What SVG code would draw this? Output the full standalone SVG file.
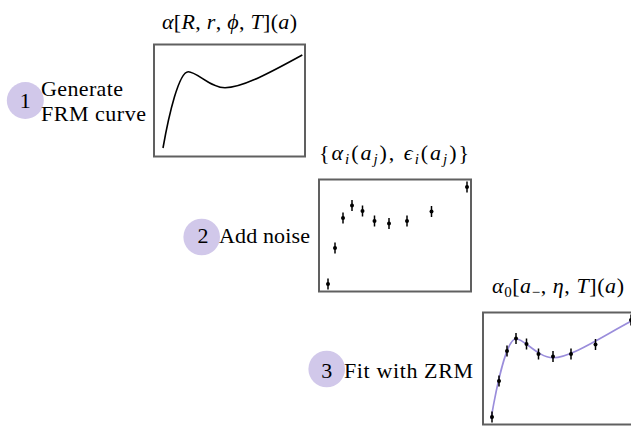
<svg xmlns="http://www.w3.org/2000/svg" xmlns:xlink="http://www.w3.org/1999/xlink" width="631" height="427" viewBox="0 0 631 427">
  <style>
    text { font-family: "Liberation Serif", "Times New Roman", "DejaVu Serif", serif; font-size: 22px; fill: #000; }
    .it { font-style: italic; }
    .sub { font-size: 15px; }
    .step { fill: #d1c8ea; }
    .box { fill: #fff; stroke: #606060; stroke-width: 2; }
    .frm { fill: none; stroke: #000; stroke-width: 1.6; }
    .zrm { fill: none; stroke: #9a8ddb; stroke-width: 1.6; }
    .bar { stroke: #000; stroke-width: 1.5; }
  </style>
  <defs>
    <g id="pt">
      <line class="bar" x1="0" y1="-5.5" x2="0" y2="5.5"/>
      <circle cx="0" cy="0" r="2" fill="#000"/>
    </g>
    <g id="data">
      <use xlink:href="#pt" href="#pt" x="9" y="105"/>
      <use xlink:href="#pt" href="#pt" x="16" y="69"/>
      <use xlink:href="#pt" href="#pt" x="24" y="39"/>
      <use xlink:href="#pt" href="#pt" x="33" y="26.5"/>
      <use xlink:href="#pt" href="#pt" x="43.5" y="32"/>
      <use xlink:href="#pt" href="#pt" x="55.5" y="42"/>
      <use xlink:href="#pt" href="#pt" x="70" y="44.5"/>
      <use xlink:href="#pt" href="#pt" x="88" y="42"/>
      <use xlink:href="#pt" href="#pt" x="112.5" y="32.5"/>
      <use xlink:href="#pt" href="#pt" x="148" y="8"/>
    </g>
  </defs>

  <!-- Step 1 -->
  <g id="step1">
    <circle class="step" cx="25.3" cy="100.5" r="18.5"/>
    <text x="25.3" y="108" text-anchor="middle">1</text>
    <text x="41" y="95.5" textLength="82">Generate</text>
    <text x="41" y="120.5" textLength="105">FRM curve</text>
  </g>
  <g id="panel1">
    <text x="162" y="29" textLength="135"><tspan class="it">α</tspan>[<tspan class="it">R</tspan>, <tspan class="it">r</tspan>, <tspan class="it">ϕ</tspan>, <tspan class="it">T</tspan>](<tspan class="it">a</tspan>)</text>
    <rect class="box" x="154" y="44.5" width="151" height="112"/>
    <path class="frm" transform="translate(154,44)" d="M9,104 C15,70 25,27.7 34.3,27.7 C43,27.7 56,43.7 71,43.7 C89,43.7 121,26 148.3,11"/>
  </g>

  <!-- Step 2 -->
  <g id="step2">
    <circle class="step" cx="201.7" cy="237" r="18.3"/>
    <text x="203" y="243" text-anchor="middle">2</text>
    <text x="219" y="242.5" textLength="91">Add noise</text>
  </g>
  <g id="panel2">
    <text x="319" y="160" textLength="150">{<tspan class="it">α</tspan><tspan class="it sub" dy="4">i</tspan><tspan dy="-4">(</tspan><tspan class="it">a</tspan><tspan class="it sub" dy="4">j</tspan><tspan dy="-4">), </tspan><tspan class="it">ϵ</tspan><tspan class="it sub" dy="4">i</tspan><tspan dy="-4">(</tspan><tspan class="it">a</tspan><tspan class="it sub" dy="4">j</tspan><tspan dy="-4">)}</tspan></text>
    <rect class="box" x="319" y="179.5" width="152" height="112"/>
    <use xlink:href="#data" href="#data" transform="translate(319,179)"/>
  </g>

  <!-- Step 3 -->
  <g id="step3">
    <circle class="step" cx="326.7" cy="369" r="18.3"/>
    <text x="326.7" y="378" text-anchor="middle">3</text>
    <text x="344" y="378" textLength="129">Fit with ZRM</text>
  </g>
  <g id="panel3">
    <text x="492" y="293" textLength="132"><tspan class="it">α</tspan><tspan class="sub" dy="4">0</tspan><tspan dy="-4">[</tspan><tspan class="it">a</tspan><tspan class="sub" dy="4">−</tspan><tspan dy="-4">, </tspan><tspan class="it">η</tspan>, <tspan class="it">T</tspan>](<tspan class="it">a</tspan>)</text>
    <rect class="box" x="483" y="312.5" width="152" height="112"/>
    <path class="zrm" transform="translate(483,312)" d="M8,107 C14,72 24,26.7 33,26.7 C41,26.7 55,45.7 70,45.7 C88,45.7 120,24 148,9.3"/>
    <use xlink:href="#data" href="#data" transform="translate(483,312)"/>
  </g>
</svg>
